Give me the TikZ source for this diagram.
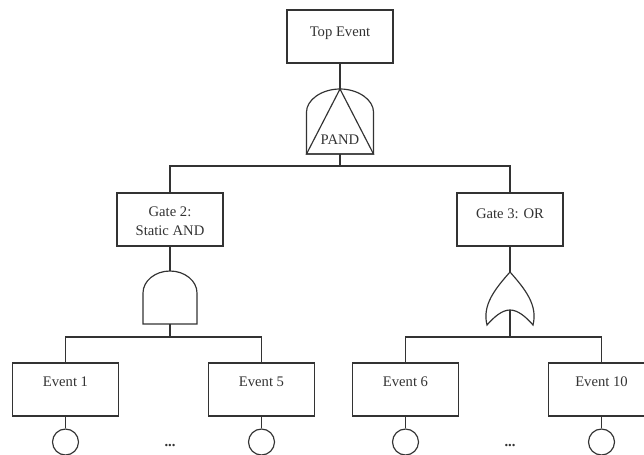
\documentclass[tikz,border=0pt]{standalone}
\usepackage{fontspec}
\setmainfont{Liberation Serif}
% text in a box, first line pushed down from the top edge
\newcommand{\boxtxt}[2][0.69cm]{\parbox[c][1.59cm][t]{3cm}{\centering\rule{0pt}{#1}#2}}

\begin{document}
\begin{tikzpicture}[x=0.03cm, y=-0.03cm, color=black!80, line width=1pt,
		font=\fontsize{12.5}{16.2}\selectfont,
		evbox/.style={draw, inner sep=0pt, minimum width=3.18cm, minimum height=1.59cm},
		leaf/.style={draw, circle, inner sep=0pt, minimum size=0.78cm}]
				\useasboundingbox (0,0) rectangle (644,455);

				% Top event and PAND gate
				\node[evbox] (top) at (340,36.5) {\boxtxt[0.81cm]{Top Event}};
				\coordinate (pandin) at (340,89);
				\coordinate (pandout) at (340,154);
				\coordinate (j1) at (340,166);
				\draw (306.5,154) -- (306.5,112) .. controls (306.5,100) and (321.5,89) .. (340,89)
					.. controls (358.5,89) and (373.5,100) .. (373.5,112) -- (373.5,154) -- cycle;
				\draw (pandin) -- (306.5,154) -- (373.5,154) -- cycle;
				\node (pand) at (340,140) {PAND};
				\draw (top) -- (pandin);
				\draw (pandout) -- (j1);

				% Gate 2 and AND gate
				\node[evbox] (g2) at (170,219.5) {\boxtxt[0.71cm]{Gate 2:\\Static AND}};
				\coordinate (andin) at (170,271);
				\coordinate (andout) at (170,324);
				\coordinate (j2) at (170,337);
				\draw (143,324) -- (143,293) .. controls (143,281) and (155,271) .. (170,271)
					.. controls (185,271) and (197,281) .. (197,293) -- (197,324) -- cycle;
				\draw (g2) -- (andin);
				\draw (andout) -- (j2);

				% Gate 3 and OR gate
				\node[evbox] (g3) at (510,219.5) {\boxtxt[0.75cm]{Gate 3: OR}};
				\coordinate (orin) at (510,272);
				\coordinate (orout) at (510,310);
				\coordinate (j3) at (510,337);
				\draw (487,325) .. controls (482,305) and (495,289) .. (orin)
					.. controls (525,289) and (538,305) .. (533,325)
					.. controls (526,317) and (518,310) .. (orout)
					.. controls (502,310) and (494,317) .. (487,325) -- cycle;
				\draw (g3) -- (orin);
				\draw (orout) -- (j3);

				\draw (g2.north) |- (j1) -| (g3.north);

				% Basic events
				\node[evbox] (ev1) at (65.5,389.5) {\boxtxt{Event 1}};
				\node[evbox] (ev5) at (261.5,389.5) {\boxtxt{Event 5}};
				\node[evbox] (ev6) at (405.5,389.5) {\boxtxt{Event 6}};
				\node[evbox] (ev10) at (601.5,389.5) {\boxtxt{Event 10}};
				\draw (ev1.north) |- (j2) -| (ev5.north);
				\draw (ev6.north) |- (j3) -| (ev10.north);

				\node[leaf] (c1) at (65.5,442) {};
				\node[leaf] (c5) at (261.5,442) {};
				\node[leaf] (c6) at (405.5,442) {};
				\node[leaf] (c10) at (601.5,442) {};
				\draw (ev1) -- (c1);
				\draw (ev5) -- (c5);
				\draw (ev6) -- (c6);
				\draw (ev10) -- (c10);
				% \draw (c1) -- (c5);
				\node (dotsa) at (170,446) {\textbf{...}};
				\node (dotsb) at (510,446) {\textbf{...}};
			\end{tikzpicture}
\end{document}
